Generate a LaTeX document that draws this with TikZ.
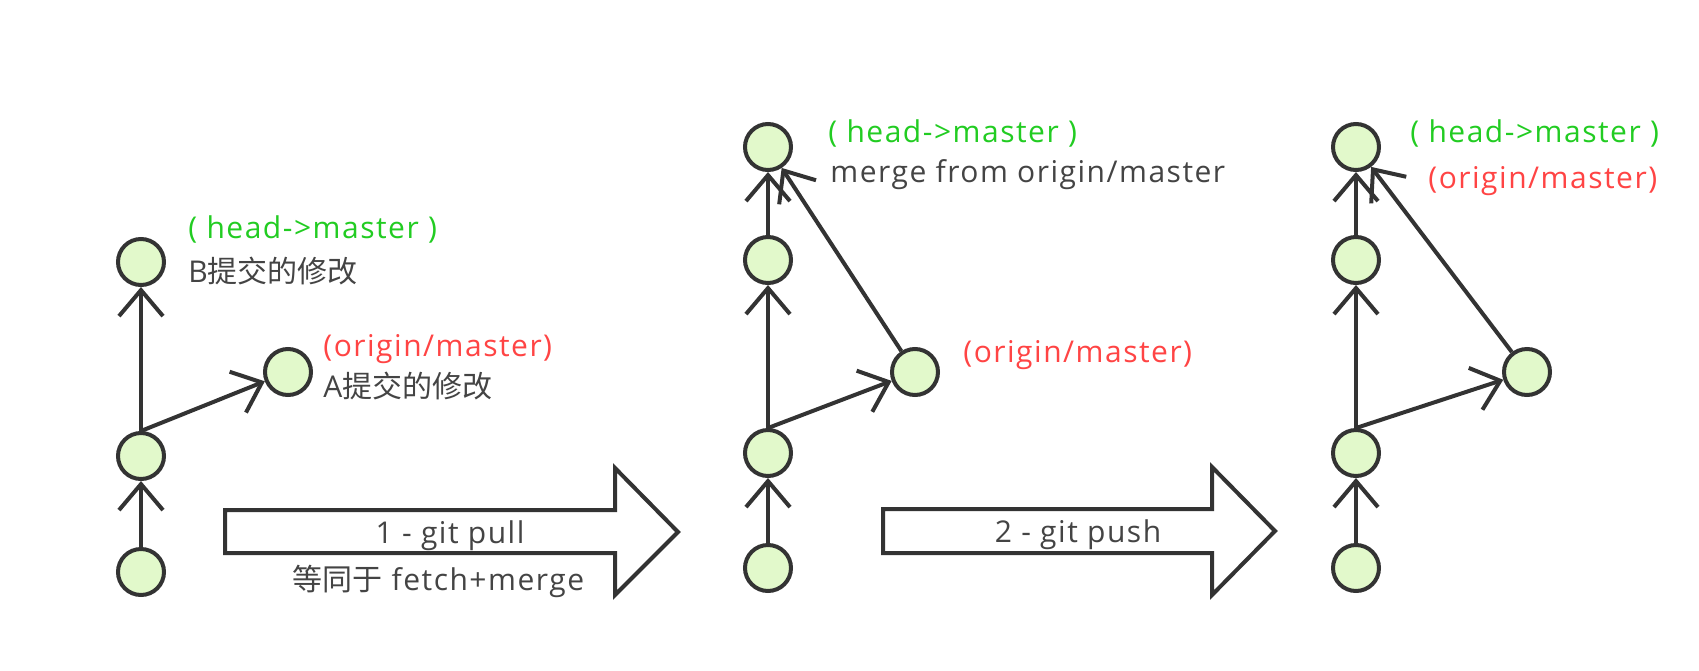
\documentclass[tikz,border=0pt]{standalone}
\usepackage{fontspec}
\usepackage{xcolor}
\usepackage{tikz}
\usetikzlibrary{arrows,arrows.meta}
\setmainfont[LetterSpace=5]{Open Sans}
\newfontfamily\cjk{Noto Sans CJK SC}
\definecolor{linegray}{HTML}{333333}
\definecolor{textgray}{HTML}{444444}
\definecolor{commitgreen}{HTML}{E2F9CB}
\definecolor{headgreen}{HTML}{22CC22}
\definecolor{originred}{HTML}{FF4444}

\tikzset{
  commit/.style = {circle, draw = linegray, line width = 2pt, fill = commitgreen, minimum size = 23pt, inner sep = 0pt},
  parent/.style = {draw = linegray, line width = 2pt, -{Straight Barb[length = 13pt, width = 22pt]}},
  bigarrow/.style = {draw = linegray, line width = 2pt, fill = white, line join = miter},
  lbl/.style = {anchor = base west, inner sep = 0pt, font = \fontsize{15}{18}\selectfont},
  headlbl/.style = {lbl, text = headgreen},
  originlbl/.style = {lbl, text = originred},
  msglbl/.style = {lbl, text = textgray}
}

\begin{document}
\begin{tikzpicture} [x = 0.5pt, y = -0.5pt]
	\useasboundingbox (0,0) rectangle (1699,670);
	% before pull
	\node [commit] (a1) at (141,572) {};
	\node [commit] (a2) at (141,456) {};
	\node [commit] (a3) at (141,262) {};
	\node [commit] (a4) at (288,372) {};
	\draw [parent] (a1) -- (a2);
	\draw [parent] (a2) -- (a3);
	\draw [parent] (a2.north) -- (a4);
	\node [headlbl] (a3head) at (188,238) {( head->master )};
	\node [msglbl] (a3msg) at (188,282) {B{\cjk 提交的修改}};
	\node [originlbl] (a4origin) at (323,356) {(origin/master)};
	\node [msglbl] (a4msg) at (323,397) {A{\cjk 提交的修改}};
	% pull
	\draw [bigarrow] (225,510) -- (615,510) -- (615,468) -- (678,532) -- (615,595) -- (615,553) -- (225,553) -- cycle;
	\node [msglbl, anchor = base] (pull) at (450,543) {1 - git pull};
	\node [msglbl] (pullnote) at (292,590) {{\cjk 等同于} fetch+merge};
	% after pull
	\node [commit] (b1) at (768,568) {};
	\node [commit] (b2) at (768,453) {};
	\node [commit] (b3) at (768,260) {};
	\node [commit] (b4) at (768,147) {};
	\node [commit] (b5) at (915,372) {};
	\draw [parent] (b1) -- (b2);
	\draw [parent] (b2) -- (b3);
	\draw [parent] (b3) -- (b4);
	\draw [parent] (b2.north) -- (b5);
	\draw [parent] (b5) -- (b4);
	\node [headlbl] (b4head) at (828,142) {( head->master )};
	\node [msglbl] (b4msg) at (830,182) {merge from origin/master};
	\node [originlbl] (b5origin) at (963,362) {(origin/master)};
	% push
	\draw [bigarrow] (883,509) -- (1212,509) -- (1212,467) -- (1275,531) -- (1212,595) -- (1212,553) -- (883,553) -- cycle;
	\node [msglbl, anchor = base] (push) at (1078,542) {2 - git push};
	% after push
	\node [commit] (c1) at (1356,568) {};
	\node [commit] (c2) at (1356,453) {};
	\node [commit] (c3) at (1356,260) {};
	\node [commit] (c4) at (1356,147) {};
	\node [commit] (c5) at (1527,372) {};
	\draw [parent] (c1) -- (c2);
	\draw [parent] (c2) -- (c3);
	\draw [parent] (c3) -- (c4);
	\draw [parent] (c2.north) -- (c5);
	\draw [parent] (c5) -- (c4);
	\node [headlbl] (c4head) at (1410,142) {( head->master )};
	\node [originlbl] (c4origin) at (1428,188) {(origin/master)};
\end{tikzpicture}
\end{document}
